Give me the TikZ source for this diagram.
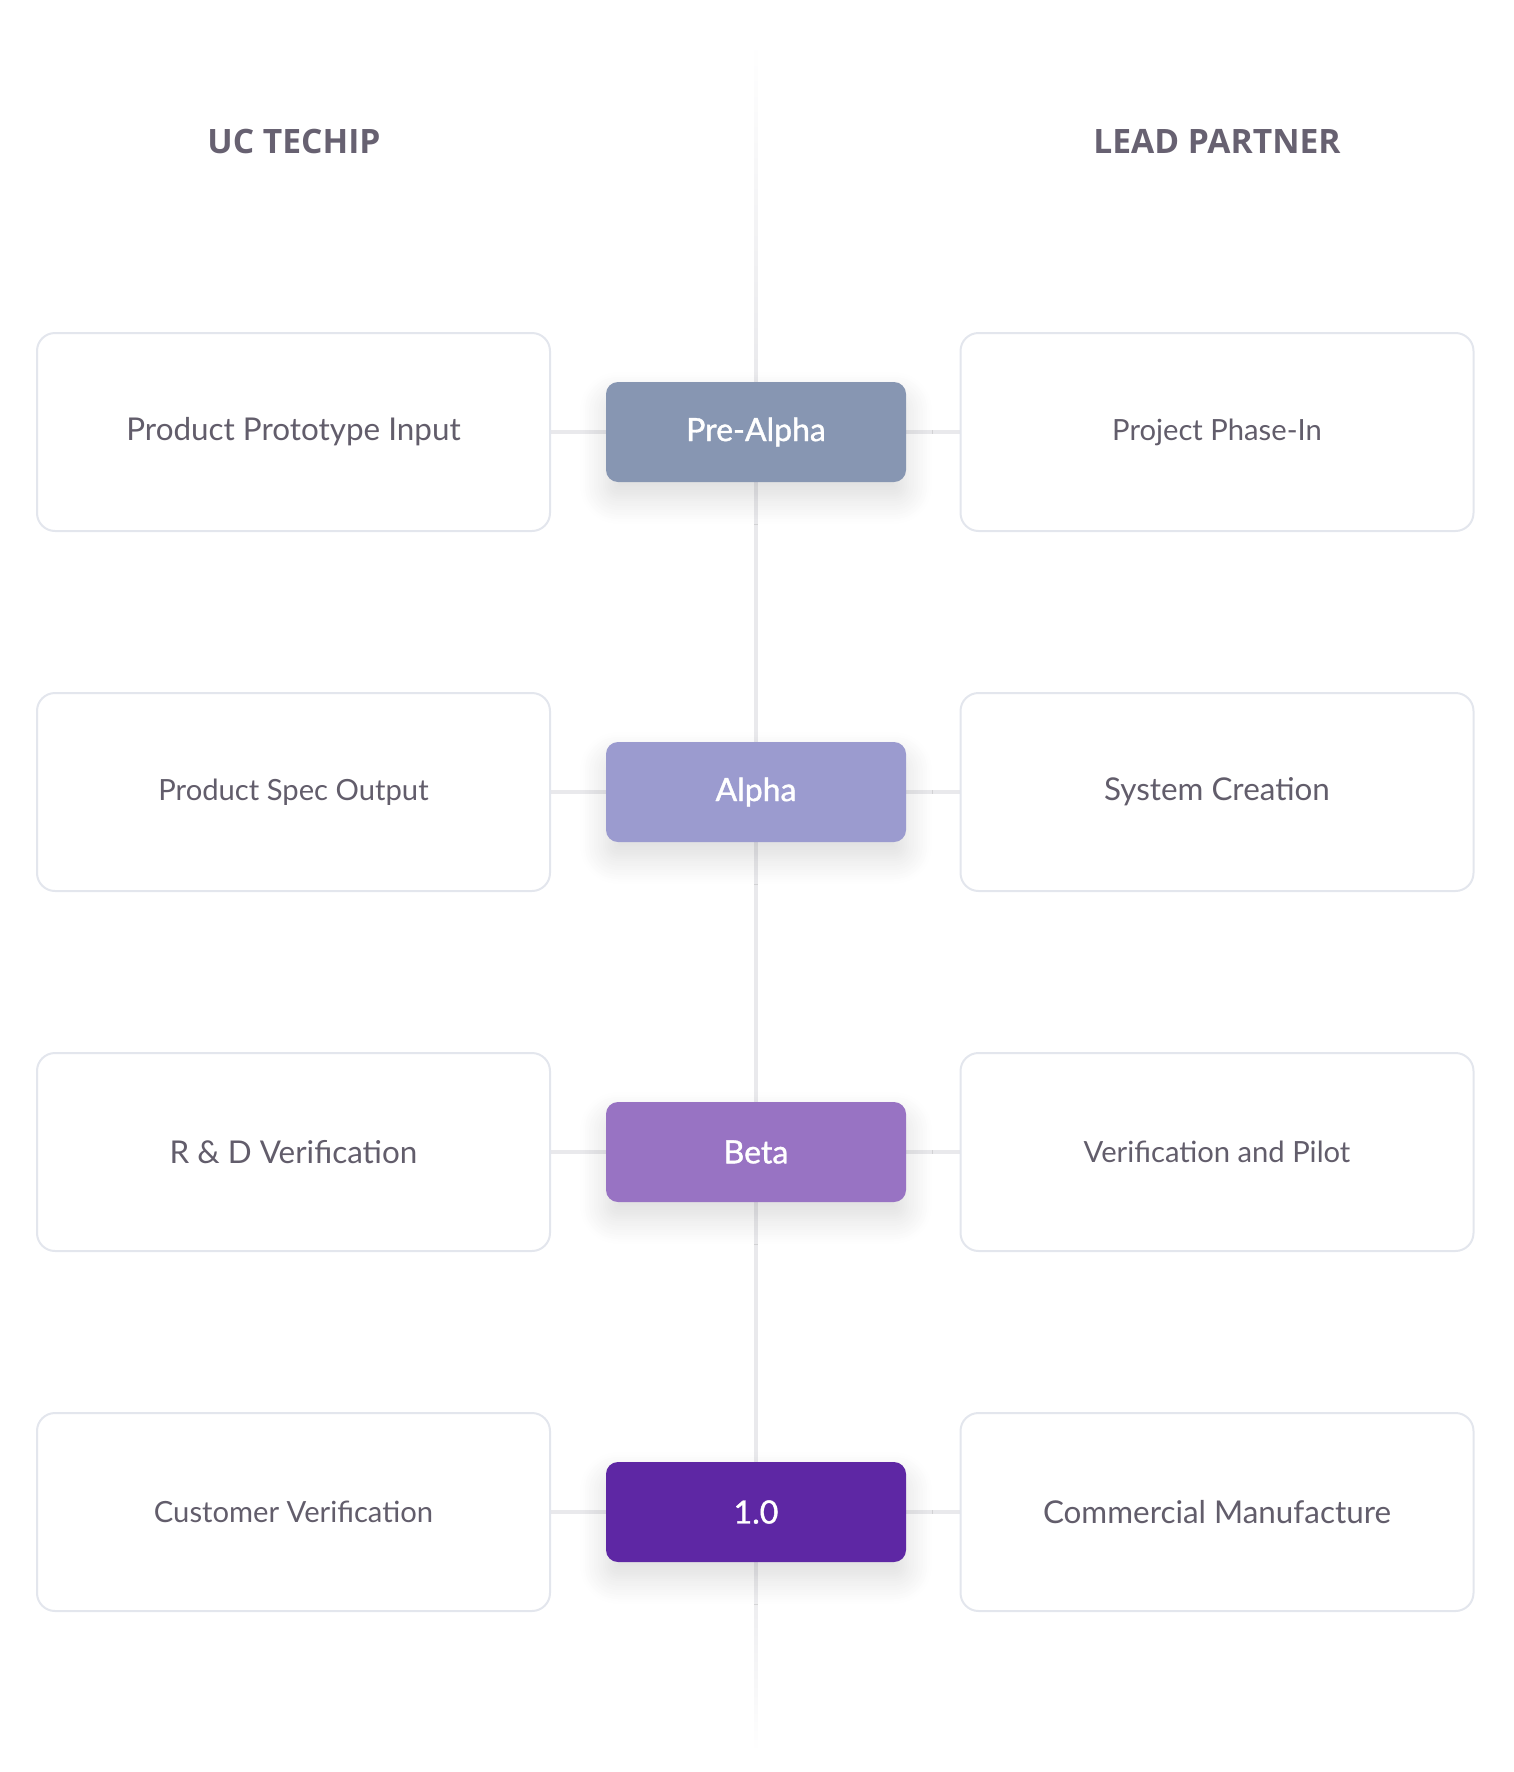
\documentclass[tikz,border=0pt]{standalone}
\usepackage{fontspec}
\setmainfont{Lato}
\newfontfamily\headfont{Open Sans}
\newfontfamily\phasefont{Lato}[FakeBold=1.2]
\usetikzlibrary{shadows.blur,backgrounds}

\definecolor{boxline}{HTML}{E3E6ED}
\definecolor{linkgray}{HTML}{E9E9EC}
\definecolor{txtgray}{HTML}{625D6B}
\definecolor{headgray}{HTML}{676171}
\definecolor{prealpha}{HTML}{8796B2}
\definecolor{alpha}{HTML}{9B9BCF}
\definecolor{beta}{HTML}{9873C3}
\definecolor{release}{HTML}{5E27A4}

\begin{document}
\begin{tikzpicture}[x=0.5pt,y=-0.5pt]
		\tikzstyle{side}=[rectangle,align=center,draw=boxline,line width=1pt,fill=white,rounded corners=9pt,minimum width=256.5pt,minimum height=99pt,text=txtgray,font=\fontsize{14.6}{18}\selectfont]
		\tikzstyle{big}=[font=\fontsize{15.7}{20}\selectfont]
		\tikzstyle{phase}=[rectangle,align=center,rounded corners=6pt,minimum width=150pt,minimum height=50pt,text=white,font=\phasefont\fontsize{16}{20}\selectfont,blur shadow={shadow xshift=0pt,shadow yshift=-8pt,shadow blur radius=13pt,shadow blur steps=12,shadow opacity=14}]
		\tikzstyle{head}=[text=headgray,font=\headfont\bfseries\fontsize{16.8}{20}\selectfont]
		\tikzstyle{link}=[draw=linkgray,line width=1.8pt]
		
		\useasboundingbox (0,0) rectangle (1514,1772);
		
		\node [head] (hl) at (294, 141) {UC TECHIP};
		\node [head] (hr) at (1217, 141) {LEAD PARTNER};
		
		\node [side,big] (l1) at (293.5, 432)  {Product Prototype Input};
		\node [side]     (l2) at (293.5, 792)  {Product Spec Output};
		\node [side,big] (l3) at (293.5, 1152) {R \& D Verification};
		\node [side]     (l4) at (293.5, 1512) {Customer Verification};
		
		\node [side]     (r1) at (1217, 432)  {Project Phase-In};
		\node [side,big] (r2) at (1217, 792)  {System Creation};
		\node [side]     (r3) at (1217, 1152) {Verification and Pilot};
		\node [side,big] (r4) at (1217, 1512) {Commercial Manufacture};
		
		\node [phase,fill=prealpha] (p1) at (756, 432)  {Pre-Alpha};
		\node [phase,fill=alpha]    (p2) at (756, 792)  {Alpha};
		\node [phase,fill=beta]     (p3) at (756, 1152) {Beta};
		\node [phase,fill=release]  (p4) at (756, 1512) {1.0};
		
		\coordinate (top) at (756, 42);
		\coordinate (bot) at (756, 1752);
		
		\begin{scope}[on background layer]
			% spine, fading out at both ends
			\shade[top color=white,bottom color=linkgray] ([xshift=-0.9pt]top) rectangle ([xshift=0.9pt,yshift=-0.1pt]p1.north);
			\draw[link] (p1) -- (p2);
			\draw[link] (p2) -- (p3);
			\draw[link] (p3) -- (p4);
			\shade[top color=linkgray,bottom color=white] ([xshift=-0.9pt]p4.south) rectangle ([xshift=0.9pt]bot);
			
			\draw[link] (l1) -- (p1);
			\draw[link] (p1) -- (r1);
			\draw[link] (l2) -- (p2);
			\draw[link] (p2) -- (r2);
			\draw[link] (l3) -- (p3);
			\draw[link] (p3) -- (r3);
			\draw[link] (l4) -- (p4);
			\draw[link] (p4) -- (r4);
		\end{scope}
	\end{tikzpicture}
\end{document}
